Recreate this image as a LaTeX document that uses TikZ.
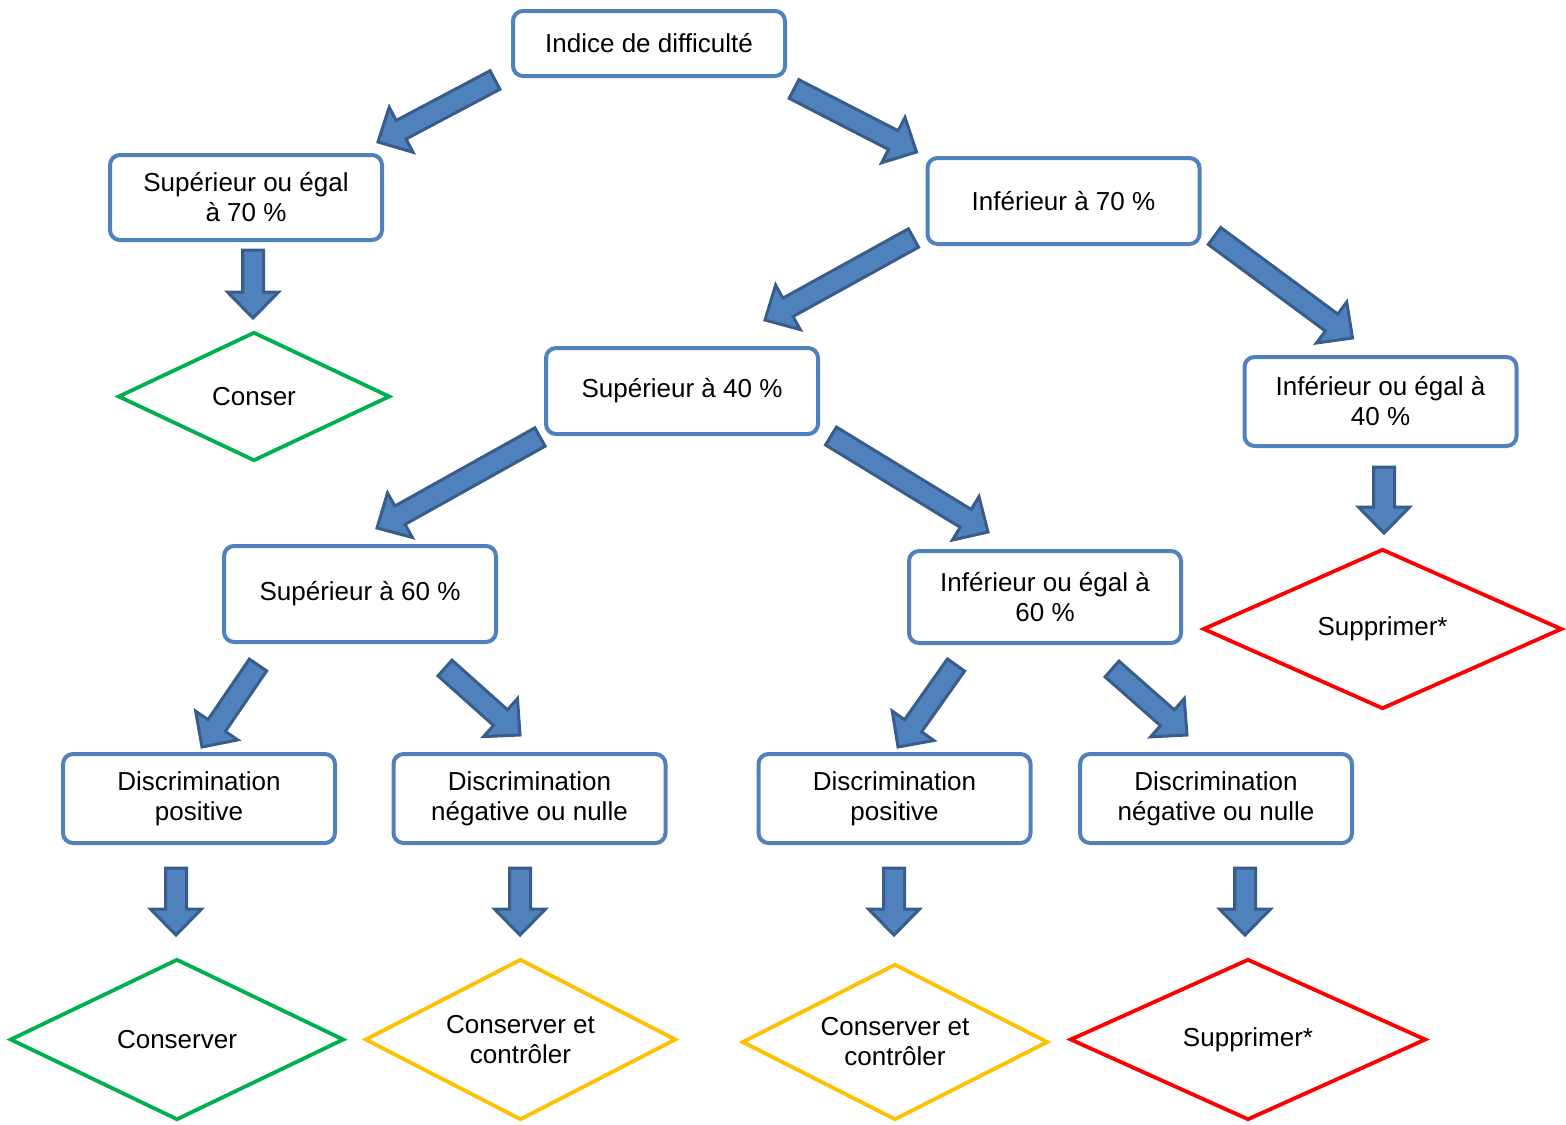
\documentclass[tikz,border=0pt]{standalone}
\usepackage{fontspec}
\setmainfont{Liberation Sans}
\usetikzlibrary{calc,shapes.geometric}
\definecolor{boxblue}{RGB}{79,129,189}
\definecolor{arrowfill}{RGB}{79,129,189}
\definecolor{arrowline}{RGB}{56,93,138}
\definecolor{keepgreen}{RGB}{0,176,80}
\definecolor{checkgold}{RGB}{255,192,0}
\definecolor{dropred}{RGB}{255,0,0}
\tikzset{
  crit box/.style={
    rectangle,
    rounded corners=5pt,
    draw=boxblue,
    fill=white,
    line width=2pt,
    minimum width=136pt,
    inner sep=2pt,
    align=center,
    font=\fontsize{13}{15}\selectfont
  },
  decision/.style={
    diamond,
    aspect=2,
    fill=white,
    line width=1.9pt,
    inner sep=0pt,
    align=center,
    font=\fontsize{13}{15}\selectfont
  },
  keep/.style={draw=keepgreen},
  check/.style={draw=checkgold},
  drop/.style={draw=dropred},
  fat arrow/.style={fill=arrowfill,draw=arrowline,line width=1.5pt,line join=miter}
}
\newcommand{\fatarrow}[2]{%
  \draw[fat arrow] let \p1=(#1), \p2=(#2),
      \n1={atan2(\y2-\y1,\x2-\x1)}, \n2={veclen(\x2-\x1,\y2-\y1)-13},
      \n3={\n1+90}, \n4={\n1-90} in
    ($(\p1)+(\n3:5.25pt)$) -- ($(\p1)+(\n1:\n2)+(\n3:5.25pt)$)
    -- ($(\p1)+(\n1:\n2)+(\n3:12.75pt)$) -- (\p2)
    -- ($(\p1)+(\n1:\n2)+(\n4:12.75pt)$) -- ($(\p1)+(\n1:\n2)+(\n4:5.25pt)$)
    -- ($(\p1)+(\n4:5.25pt)$) -- cycle;%
}
\begin{document}
\begin{tikzpicture}[x=0.5pt,y=-0.5pt]
  \useasboundingbox (0,0) rectangle (1566,1124);

  % criteria
  \node[crit box,minimum height=32.5pt] (indice) at (649,43.5) {Indice de difficulté};
  \node[crit box,minimum height=42.5pt] (sup70) at (246,197.5) {Supérieur ou égal\\à 70 \%};
  \node[crit box,minimum height=43pt] (inf70) at (1063.5,201) {Inférieur à 70 \%};
  \node[crit box,minimum height=43pt] (sup40) at (682,391) {Supérieur à 40 \%};
  \node[crit box,minimum height=44.5pt] (inf40) at (1380.5,401.5) {Inférieur ou égal à\\40 \%};
  \node[crit box,minimum height=48pt] (sup60) at (360,594) {Supérieur à 60 \%};
  \node[crit box,minimum height=46pt] (inf60) at (1045,597) {Inférieur ou égal à\\60 \%};
  \node[crit box,minimum height=44.5pt] (dpos1) at (199,798.5) {Discrimination\\positive};
  \node[crit box,minimum height=44.5pt] (dneg1) at (529.5,798.5) {Discrimination\\négative ou nulle};
  \node[crit box,minimum height=44.5pt] (dpos2) at (894.5,798.5) {Discrimination\\positive};
  \node[crit box,minimum height=44.5pt] (dneg2) at (1216,798.5) {Discrimination\\négative ou nulle};

  % decisions
  \node[decision,keep,minimum width=136pt,minimum height=64.5pt] (cons1) at (254,396.5) {Conser};
  \node[decision,drop,minimum width=179.5pt,minimum height=80pt] (supp1) at (1382.5,629) {Supprimer*};
  \node[decision,keep,minimum width=167pt,minimum height=80.5pt] (cons2) at (177,1039.5) {Conserver};
  \node[decision,check,minimum width=155.5pt,minimum height=80.5pt] (ctrl1) at (520.5,1039.5) {Conserver et\\contrôler};
  \node[decision,check,minimum width=153pt,minimum height=78pt] (ctrl2) at (895,1042) {Conserver et\\contrôler};
  \node[decision,drop,minimum width=178pt,minimum height=80.5pt] (supp2) at (1248,1039.5) {Supprimer*};

  % block arrows
  \fatarrow{$(indice.south west)+(-16,2)$}{$(sup70.north east)+(-6,-11)$}
  \fatarrow{$(indice.south east)+(7,11)$}{$(inf70.north west)+(-9,-4)$}
  \fatarrow{$(sup70.south)+(7,8)$}{$(cons1.north)+(-1,-12)$}
  \fatarrow{$(inf70.south west)+(-12,-8)$}{$(sup40.north)+(83,-26)$}
  \fatarrow{$(inf70.south east)+(13,-10)$}{$(inf40.north)+(-28,-17)$}
  \fatarrow{$(inf40.south)+(3.5,19)$}{$(supp1.north)+(1.5,-14)$}
  \fatarrow{$(sup40.south west)+(-4,1)$}{$(sup60.north)+(17,-16)$}
  \fatarrow{$(sup40.south east)+(11,0)$}{$(inf60.north)+(-57,-17)$}
  \fatarrow{$(sup60.south)+(-102,21)$}{$(dpos1.north)+(3,-5)$}
  \fatarrow{$(sup60.south)+(85,24)$}{$(dneg1.north)+(-9.5,-17)$}
  \fatarrow{$(inf60.south)+(-89,20)$}{$(dpos2.north)+(3.5,-5)$}
  \fatarrow{$(inf60.south)+(67,24)$}{$(dneg2.north)+(-29,-17)$}
  \fatarrow{$(dpos1.south)+(-23,23)$}{$(cons2.north)+(-1,-22)$}
  \fatarrow{$(dneg1.south)+(-9.5,23)$}{$(ctrl1.north)+(-0.5,-22)$}
  \fatarrow{$(dpos2.south)+(-0.5,23)$}{$(ctrl2.north)+(-1,-27)$}
  \fatarrow{$(dneg2.south)+(29,23)$}{$(supp2.north)+(-3,-22)$}

\end{tikzpicture}
\end{document}
